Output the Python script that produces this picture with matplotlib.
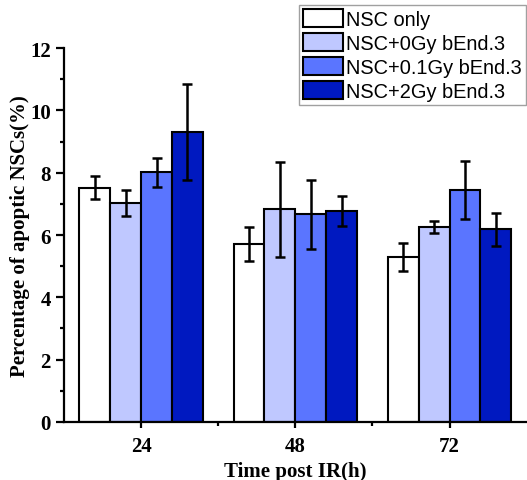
import numpy as np
from matplotlib import pyplot as plt

plt.rcParams.update({
    "font.family": ['Liberation Serif', 'DejaVu Serif'],
    "font.weight": 'bold',
    "axes.linewidth": 1.6,
})

times = ['24', '48', '72']
groups = ['NSC only', 'NSC+0Gy bEnd.3', 'NSC+0.1Gy bEnd.3', 'NSC+2Gy bEnd.3']
colors = ['#ffffff', '#bfc8ff', '#5a75ff', '#0019c0']

# средние значения (%) и ошибки
means = [
    [7.52, 5.71, 5.30],
    [7.02, 6.82, 6.25],
    [8.01, 6.66, 7.44],
    [9.31, 6.78, 6.19],
]
errs = [
    [0.38, 0.55, 0.45],
    [0.41, 1.53, 0.20],
    [0.47, 1.12, 0.92],
    [1.55, 0.48, 0.53],
]

fig = plt.figure(figsize=(5.27, 4.81), dpi=100)
ax = fig.add_axes([0.1214, 0.1206, 0.878, 0.7775])

x = np.arange(len(times))
width = 0.2
handles = []
for i, (name, col) in enumerate(zip(groups, colors)):
    pos = x + (i - 1.5) * width
    b = ax.bar(pos, means[i], width=width, color=col, edgecolor='black',
               linewidth=1.5, label=name, zorder=2)
    ax.errorbar(pos, means[i], yerr=errs[i], fmt='none', ecolor='black',
                elinewidth=1.8, capsize=3.5, capthick=1.8, zorder=3)
    handles.append(b)

ax.set_xlim(-0.5, 2.5)
ax.set_ylim(0, 12)
ax.set_xticks(x)
ax.set_xticklabels(times)
ax.set_xticks([0.5, 1.5], minor=True)
ax.set_yticks(np.arange(0, 13, 2))
ax.set_yticks(np.arange(1, 12, 2), minor=True)
ax.tick_params(axis='x', which='major', direction='inout', length=8, width=1.6,
               labelsize=15, pad=6)
ax.tick_params(axis='x', which='minor', direction='out', length=3, width=1.6)
ax.tick_params(axis='y', which='major', direction='out', length=6, width=1.6,
               labelsize=15)
ax.tick_params(axis='y', which='minor', direction='out', length=3, width=1.6)
for lab in ax.get_xticklabels() + ax.get_yticklabels():
    lab.set_fontweight('bold')

ax.spines['top'].set_visible(False)
ax.spines['right'].set_visible(False)

ax.set_xlabel("Time post IR(h)", fontsize=15, fontweight='bold', labelpad=4)
ax.set_ylabel("Percentage of apoptic NSCs(%)", fontsize=15, fontweight='bold',
              labelpad=0)

leg = fig.legend(handles=handles, labels=groups, loc='upper right',
                 bbox_to_anchor=(0.999, 0.988), frameon=True, fancybox=False,
                 prop={'family': 'Liberation Sans', 'size': 14.4, 'weight': 'normal'},
                 handlelength=2.0, handleheight=1.0, handletextpad=0.15,
                 labelspacing=0.21, borderpad=0.22, borderaxespad=0)
leg.get_frame().set_edgecolor('#888888')
leg.get_frame().set_linewidth(1.0)

fig.savefig('out.png', dpi=100)
